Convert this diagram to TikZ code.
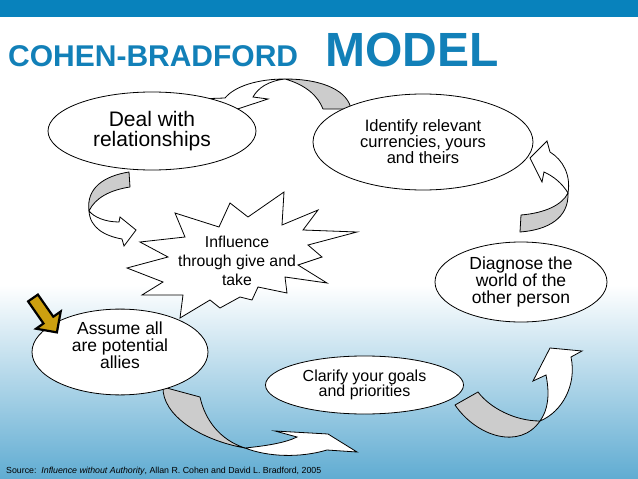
\documentclass[tikz,border=0pt]{standalone}
\usepackage{fontspec}
\setmainfont{Liberation Sans}
\usetikzlibrary{shapes.geometric}
\definecolor{barblue}{RGB}{8,130,188}
\definecolor{titleblue}{RGB}{18,128,184}
\definecolor{skyblue}{RGB}{96,172,210}
\definecolor{arrowgold}{RGB}{204,160,16}
\tikzset{
  stage/.style={
      ellipse,
      inner sep=0pt,
      draw=black,
      fill=white,
      line width=0.8pt,
      align=center
  },
  backface/.style={draw=black, fill=black!20, line width=0.8pt, line join=round},
  frontface/.style={draw=black, fill=white, line width=0.8pt}
}

\begin{document}
\begin{tikzpicture}[x=1pt,y=-1pt]
    \useasboundingbox (0,0) rectangle (638,479);
    % background
    \fill[white] (0,0) rectangle (638,479);
    \shade[top color=white,bottom color=skyblue] (0,285) rectangle (638,479);
    \fill[barblue] (0,0) rectangle (638,17);

    \node[anchor=base west,inner sep=0pt,text=titleblue,font=\bfseries\fontsize{30}{30}\selectfont] (title) at (8,66) {COHEN-BRADFORD};
    \node[anchor=base west,inner sep=0pt,text=titleblue,font=\bfseries\fontsize{48}{48}\selectfont] (model) at (325,66) {MODEL};

    % ribbon arrows: grey back, white front with head
    % deal -> influence
    \draw[backface] (129,172) .. controls (104,176) and (86,188) .. (89,211)
                    .. controls (95,198) and (110,190) .. (130,187) -- cycle;
    \draw[frontface] (89,211) .. controls (90,228) and (105,236) .. (122,239)
                     -- (124,246) -- (136,230) -- (120,217) -- (119,222)
                     .. controls (105,222) and (94,217) .. (89,211) -- cycle;
    % identify -> deal
    \draw[backface] (285,79) .. controls (325,79) and (348,92) .. (351,109) -- (323,109)
                    .. controls (318,96) and (306,85) .. (285,79) -- cycle;
    \draw[frontface] (285,79) .. controls (258,79) and (235,86) .. (225,98)
                     -- (196,99) -- (210,118) -- (268,99) -- (253,97)
                     .. controls (258,88) and (268,81) .. (285,79) -- cycle;
    % diagnose -> identify
    \draw[backface] (521,215) -- (520,232) .. controls (548,230) and (569,218) .. (568,193)
                    .. controls (562,205) and (545,213) .. (521,215) -- cycle;
    \draw[frontface] (568,193) .. controls (571,175) and (563,160) .. (550,152)
                     -- (547,141) -- (530,158) -- (542,182) -- (544,172)
                     .. controls (553,176) and (562,183) .. (568,193) -- cycle;
    % clarify -> diagnose
    \draw[backface] (478,392) -- (455,405) .. controls (477,437) and (520,450) .. (540,421)
                    .. controls (515,421) and (490,408) .. (478,392) -- cycle;
    \draw[frontface] (540,421) .. controls (562,412) and (577,385) .. (571,357)
                     -- (582,351) -- (550,348) -- (533,381) -- (546,375)
                     .. controls (550,395) and (548,410) .. (540,421) -- cycle;
    % assume -> clarify
    \draw[backface] (163,387) -- (200,397) .. controls (205,420) and (220,440) .. (245,448)
                    .. controls (200,440) and (162,415) .. (163,387) -- cycle;
    \draw[frontface] (245,448) .. controls (265,446) and (285,443) .. (297,437)
                     -- (275,431) -- (328,434) -- (357,452) -- (327,450)
                     .. controls (300,458) and (268,457) .. (245,448) -- cycle;

    % stages
    \node[stage,minimum width=208pt,minimum height=78pt,font=\fontsize{21}{20}\selectfont] (deal) at (152,131) {Deal with\\relationships};
    \node[stage,minimum width=220pt,minimum height=96pt,font=\fontsize{16.5}{16}\selectfont] (identify) at (423,142) {Identify relevant\\currencies, yours\\and theirs};
    \node[stage,minimum width=172pt,minimum height=80pt,font=\fontsize{17.5}{16.7}\selectfont] (diagnose) at (521,282) {Diagnose the\\world of the\\other person};
    \node[stage,minimum width=198pt,minimum height=58pt,font=\fontsize{16}{15}\selectfont] (clarify) at (364.5,385) {Clarify your goals\\and priorities};
    \node[stage,minimum width=176pt,minimum height=59pt,font=\fontsize{17.5}{17}\selectfont] (assume) at (120,352) {Assume all\\are potential\\allies\\[-3pt]};

    % starburst
    \draw[frontface] (175,213) -- (219,227) -- (230,203) -- (248,217) -- (284,192) -- (282,225)
        -- (318,210) -- (303,230) -- (357,232) -- (308,245) -- (322,257) -- (298,265)
        -- (327,283) -- (285,277) -- (287,293) -- (258,287) -- (252,300) -- (240,297)
        -- (220,308) -- (210,300) -- (180,318) -- (183,295) -- (142,295) -- (163,282)
        -- (127,268) -- (168,257) -- (140,242) -- (185,237) -- cycle;
    \node[align=center,inner sep=0pt,font=\fontsize{15.8}{19}\selectfont] (influence) at (237,261) {Influence\\through give and\\take};

    % start marker
    \draw[fill=arrowgold,line width=2.2pt] (37.9,294.6) -- (53.3,316.7) -- (60.7,311.5) -- (56.9,332.4)
        -- (36.1,328.7) -- (43.5,323.5) -- (28.1,301.4) -- cycle;

    \node[anchor=base west,inner sep=0pt,font=\fontsize{8.8}{9}\selectfont] (source) at (6,473)
        {Source:\ \ \textit{Influence without Authority}, Allan R. Cohen and David L. Bradford, 2005};
\end{tikzpicture}
\end{document}
